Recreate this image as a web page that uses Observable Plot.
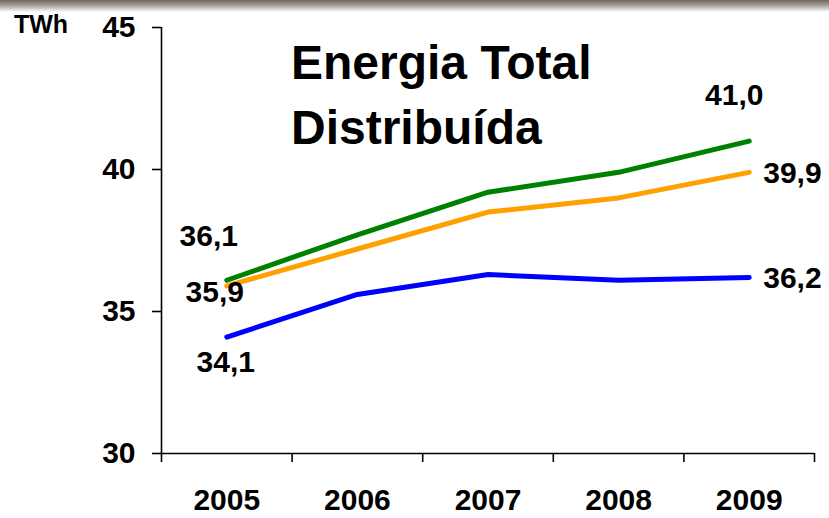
<!DOCTYPE html>
<html>
<head>
<meta charset="utf-8">
<script src="https://cdn.jsdelivr.net/npm/d3@7"></script>
<script src="https://cdn.jsdelivr.net/npm/@observablehq/plot@0.6"></script>
<style>
  html, body { margin: 0; padding: 0; background: #fff; }
  #wrap { position: relative; width: 829px; height: 518px; overflow: hidden; font-family: "Liberation Sans", Arial, sans-serif; }
  #topbar { position: absolute; left: 0; top: 0; width: 829px; height: 12px; background: linear-gradient(#6f6761, #a59f9a 45%, #ffffff); }
  #unit { position: absolute; left: 14px; top: 12px; font-size: 25px; line-height: 24px; font-weight: bold; color: #000; }
  #title { position: absolute; left: 291px; top: 30px; font-size: 48px; line-height: 65px; font-weight: bold; color: #000; }
</style>
</head>
<body>
<div id="wrap">
  <div id="chart"></div>
  <div id="topbar"></div>
  <div id="unit">TWh</div>
  <div id="title">Energia Total<br>Distribuída</div>
</div>
<script>
const years = [2005, 2006, 2007, 2008, 2009];
const seriesNames = ["Total", "Cativo+Livre", "Cativo"];
const totalValues = [36.1, 37.7, 39.2, 39.9, 41.0];
const midValues = [35.9, 37.2, 38.5, 39.0, 39.9];
const captiveValues = [34.1, 35.6, 36.3, 36.1, 36.2];
const colors = ["#008000", "#ffa000", "#0000ff"];
const yTicks = [30, 35, 40, 45];
const labelTexts = {
  totalStart: "36,1", midStart: "35,9", captiveStart: "34,1",
  totalEnd: "41,0", midEnd: "39,9", captiveEnd: "36,2"
};

const allValues = [totalValues, midValues, captiveValues];
const data = [];
seriesNames.forEach((s, i) => years.forEach((y, j) => data.push({series: s, year: y, value: allValues[i][j]})));

const pt = (i, j, text) => [{year: years[j], value: allValues[i][j], text}];
const last = years.length - 1;
const boundaries = d3.range(years.length + 1).map(i => years[0] - 0.5 + i);

const font = {fontSize: 30, fontWeight: "bold", fill: "#000"};

const chart = Plot.plot({
  width: 829,
  height: 518,
  marginLeft: 161,
  marginRight: 15,
  marginTop: 27,
  marginBottom: 65,
  style: {fontFamily: "'Liberation Sans', Arial, sans-serif", background: "transparent", color: "#000"},
  x: {domain: [years[0] - 0.5, years[last] + 0.5], label: null},
  y: {domain: [30, 45], label: null},
  color: {domain: seriesNames, range: colors},
  marks: [
    Plot.ruleY([30], {stroke: "#000", strokeWidth: 1.6}),
    Plot.ruleX([years[0] - 0.5], {y1: 30, y2: 45, stroke: "#000", strokeWidth: 1.6}),
    Plot.axisY({ticks: yTicks, label: null, tickSize: 9, tickPadding: 17, fontSize: 30, fontWeight: "bold", strokeWidth: 1.6, tickFormat: d => String(d)}),
    Plot.axisX({ticks: boundaries, label: null, tickSize: 9, tickFormat: () => "", strokeWidth: 1.6}),
    Plot.axisX({ticks: years, label: null, tickSize: 0, tickPadding: 35, fontSize: 30, fontWeight: "bold", tickFormat: d => String(d)}),
    Plot.line(data, {x: "year", y: "value", z: "series", stroke: "series", strokeWidth: 5, strokeLinecap: "round", strokeLinejoin: "round"}),
    Plot.text(pt(0, 0, labelTexts.totalStart), {x: "year", y: "value", text: "text", dx: -18, dy: -44, ...font}),
    Plot.text(pt(1, 0, labelTexts.midStart), {x: "year", y: "value", text: "text", dx: -12, dy: 6, ...font}),
    Plot.text(pt(2, 0, labelTexts.captiveStart), {x: "year", y: "value", text: "text", dx: -1, dy: 25, ...font}),
    Plot.text(pt(0, last, labelTexts.totalEnd), {x: "year", y: "value", text: "text", dx: -15, dy: -46, ...font}),
    Plot.text(pt(1, last, labelTexts.midEnd), {x: "year", y: "value", text: "text", dx: 14, dy: 1, textAnchor: "start", ...font}),
    Plot.text(pt(2, last, labelTexts.captiveEnd), {x: "year", y: "value", text: "text", dx: 14, dy: 1, textAnchor: "start", ...font})
  ]
});
document.getElementById("chart").appendChild(chart);
</script>
</body>
</html>
